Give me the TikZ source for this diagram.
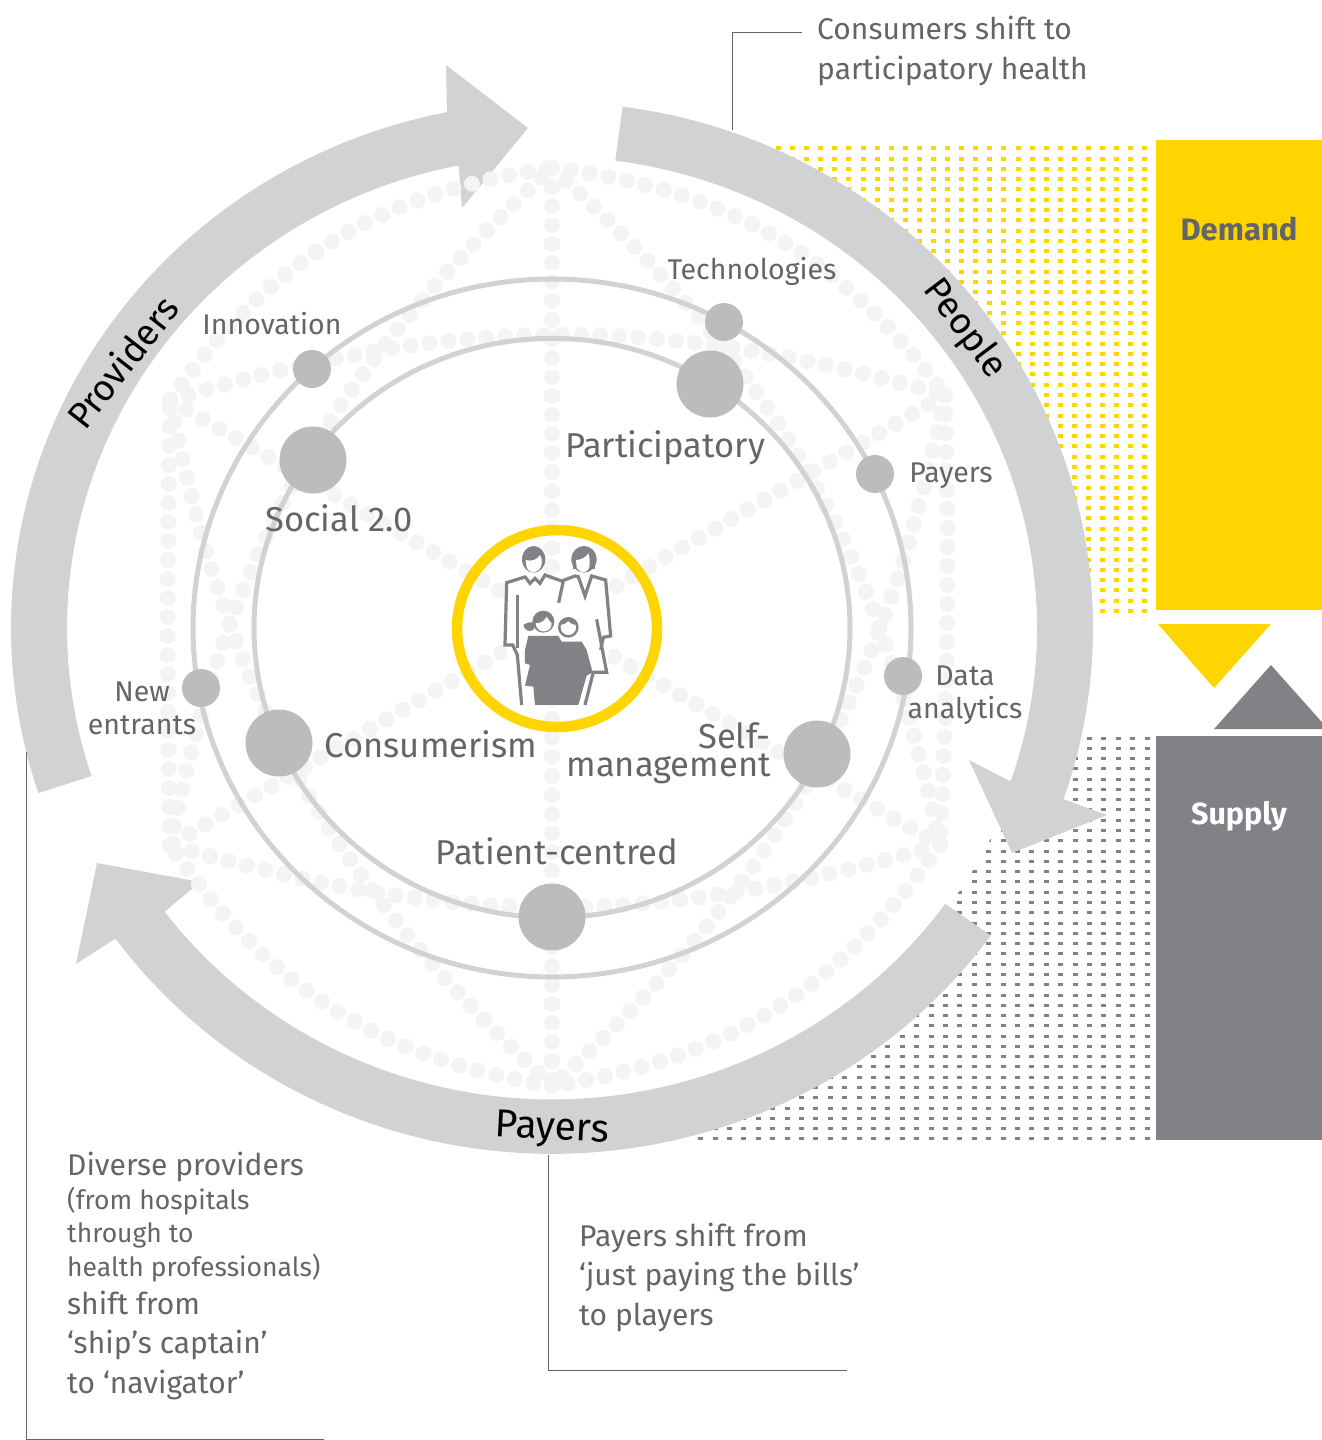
\documentclass[tikz,border=0pt]{standalone}
\usepackage{fontspec}
\setmainfont{Fira Sans}
\definecolor{bandgray}{HTML}{D0D2D3}
\definecolor{ballgray}{HTML}{BBBCBE}
\definecolor{palegray}{HTML}{F4F4F5}
\definecolor{textgray}{HTML}{646569}
\definecolor{darkgray}{HTML}{808285}
\definecolor{eyyellow}{HTML}{FFD500}
\tikzset{
  band/.style={fill=bandgray},
  ringline/.style={draw=bandgray, line width=5pt},
  pale/.style={draw=palegray, line width=16pt, line cap=round, dash pattern=on 0pt off 19pt},
  smallball/.style={circle, fill=ballgray, minimum size=38pt, inner sep=0pt},
  bigball/.style={circle, fill=ballgray, minimum size=67pt, inner sep=0pt},
  biglabel/.style={text=textgray, font=\fontsize{34.5}{28.5}\selectfont, inner sep=0pt, align=center},
  smalllabel/.style={text=textgray, font=\fontsize{28.5}{33}\selectfont, inner sep=0pt, align=center},
  bodytext/.style={text=textgray, font=\fontsize{30}{39.5}\selectfont, inner sep=0pt, align=left, anchor=base west},
  subtext/.style={text=textgray, font=\fontsize{26.5}{33.3}\selectfont, inner sep=0pt, align=left, anchor=base west},
  bandlabel/.style={text=black, font=\fontsize{36.5}{36}\selectfont, inner sep=0pt},
  leader/.style={draw=textgray, line width=1pt},
  famline/.style={draw=darkgray, line width=3.2pt, line join=miter, fill=none},
  famhair/.style={fill=darkgray},
}
\begin{document}
\begin{tikzpicture}[x=1pt, y=-1pt]
  \useasboundingbox (0,0) rectangle (1322,1440);

  % dotted panels behind the ring
  \foreach \row in {0,...,45}
    \draw[eyyellow, line width=4pt, dash pattern=on 5pt off 9.09pt] (776,148.3+\row*10.28) -- (1148,148.3+\row*10.28);
  \foreach \row in {0,...,39}
    \draw[darkgray, line width=3pt, dash pattern=on 5pt off 9.4pt] (698.2,738+\row*10.28) -- (1150,738+\row*10.28);

  \fill[eyyellow] (1156,140) rectangle (1322,610);
  \fill[darkgray] (1156,736) rectangle (1322,1140);
  \fill[eyyellow] (1158,624) -- (1271,624) -- (1214,688) -- cycle;
  \fill[darkgray] (1214,729) -- (1271,665) -- (1328,729) -- cycle;

  \coordinate (peopleA) at (969,760);
  \coordinate (peopleB) at (1107,815);
  \coordinate (peopleC) at (1012,853);
  \coordinate (payersA) at (200,882);
  \coordinate (payersB) at (97,863);
  \coordinate (payersC) at (76,964);
  \coordinate (provA) at (462,208);
  \coordinate (provB) at (528,128);
  \coordinate (provC) at (446,65);

  \begin{scope}[shift={(552,628)}, y=1pt, yscale=.972]
    \fill[white] (0,0) circle[radius=489];
    % the three arrows
    \fill[band] (82.5:541) arc[start angle=82.5, end angle=-19, radius=541]
      -- (peopleB) -- (peopleC) -- (peopleA)
      -- (-19:485) arc[start angle=-19, end angle=82.5, radius=485] -- cycle;
    \fill[band] (-35.8:541) arc[start angle=-35.8, end angle=-143.8, radius=541]
      -- (payersC) -- (payersB) -- (payersA)
      -- (-143:485) arc[start angle=-143, end angle=-35.8, radius=485] -- cycle;
    \fill[band] (198.3:541) arc[start angle=198.3, end angle=101.2, radius=541]
      -- (provC) -- (provB) -- (provA)
      -- (101.1:485) arc[start angle=101.1, end angle=198.3, radius=485] -- cycle;
  \end{scope}

  % the pale dotted net
  \coordinate (netT) at (552,168);
  \coordinate (netUR) at (945,395);
  \coordinate (netLR) at (940,845);
  \coordinate (netB) at (552,1086);
  \coordinate (netLL) at (170,845);
  \coordinate (netUL) at (170,400);
  \draw[pale] (netT) to[bend left=23] (netUR);
  \draw[pale] (netUR) to[bend left=2] (netLR);
  \draw[pale] (netLR) to[bend left=23] (netB);
  \draw[pale] (netB) to[bend left=23] (netLL);
  \draw[pale] (netLL) to[bend left=1] (netUL);
  \draw[pale] (netUL) to[bend left=23] (netT);
  \draw[pale] (netUL) to[bend left=16] (netUR);
  \draw[pale] (netLR) to[bend left=16] (netLL);
  \draw[pale] (netT) to[bend left=18] (netLR);
  \draw[pale] (netUR) to[bend left=18] (netB);
  \draw[pale] (netB) to[bend left=18] (netUL);
  \draw[pale] (netLL) to[bend left=18] (netT);
  \draw[pale] (netT) -- (netB);
  \draw[pale] (netUL) -- (netLR);
  \draw[pale] (netUR) -- (netLL);

  \begin{scope}[shift={(552,628)}, y=1pt, yscale=.972]
    \draw[ringline] (0,0) circle[radius=359];
    \draw[ringline] (0,0) circle[radius=298];
  \end{scope}

  \node[smallball] (techball) at (724,322) {};
  \node[smallball] (innoball) at (312,369) {};
  \node[smallball] (payball) at (875,474) {};
  \node[smallball] (databall) at (903,676) {};
  \node[smallball] (newball) at (201,688) {};
  \node[bigball] (partball) at (710,384) {};
  \node[bigball] (socball) at (313,460) {};
  \node[bigball] (selfball) at (817,754) {};
  \node[bigball] (consball) at (279,743) {};
  \node[bigball] (patball) at (552,917) {};

  \node[smalllabel] (techlab) at (752,271) {Technologies};
  \node[smalllabel] (innolab) at (272,324) {Innovation};
  \node[smalllabel] (paylab) at (951,476) {Payers};
  \node[smalllabel] (datalab) at (965,695) {Data\\analytics};
  \node[smalllabel] (newlab) at (142,708) {New\\entrants};
  \node[biglabel] (partlab) at (665,448) {Participatory};
  \node[biglabel] (soclab) at (339,518) {Social 2.0};
  \node[biglabel] (conslab) at (431,744) {Consumerism};
  \node[biglabel, align=right, anchor=east] (selflab) at (771,753) {Self-\\management};
  \node[biglabel] (patlab) at (557,851) {Patient-centred};

  \node[bandlabel, rotate=-53] (peoplelab) at (964,329) {People};
  \node[bandlabel, rotate=52] (provlab) at (122,362) {Providers};
  \node[bandlabel, font=\fontsize{39}{39}\selectfont, rotate=-3] (paylabb) at (552,1130) {Payers};

  \node[text=textgray, font=\bfseries\fontsize{31}{31}\selectfont, inner sep=0pt] (demandlab) at (1239,229) {Demand};
  \node[text=white, font=\bfseries\fontsize{30.5}{31}\selectfont, inner sep=0pt] (supplylab) at (1239,816) {Supply};

  % leaders
  \coordinate (consA) at (802,32);
  \coordinate (consB) at (732,130);
  \draw[leader] (consA) -| (consB);
  \coordinate (paysA) at (548,1155);
  \coordinate (paysB) at (847,1370);
  \draw[leader] (paysA) |- (paysB);
  \coordinate (provsA) at (26,752);
  \coordinate (provsB) at (324,1439);
  \draw[leader] (provsA) |- (provsB);

  \node[bodytext] (constext) at (817,79) {Consumers shift to\\participatory health};
  \node[bodytext] (paystext) at (579,1325) {Payers shift from\\‘just paying the bills’\\to players};
  \node[bodytext] (provtexta) at (67,1175) {Diverse providers};
  \node[subtext] (provtextb) at (67,1276) {(from hospitals\\through to\\health professionals)};
  \node[bodytext] (provtextc) at (67,1393) {shift from\\‘ship’s captain’\\to ‘navigator’};

  % centre ring and family
  \draw[eyyellow, line width=10.5pt] (557,628.5) ellipse[x radius=100, y radius=98.5];
  \begin{scope}[shift={(440,510)}, x=.3333pt, y=-.3333pt]
    % man and woman
    \path[fill=white] (200,215) -- (495,205) -- (512,380) -- (500,487) -- (440,585) -- (245,585) -- (195,405) -- cycle;
    \draw[famline] (258,200) -- (200,218) -- (195,405) -- (218,405) -- (232,435) -- (245,585);
    \draw[famline] (233,255) -- (233,415);
    \draw[famline] (255,200) -- (270,220) -- (285,205) -- (300,220) -- (315,195) -- (365,213) -- (405,198) -- (415,200) -- (435,258) -- (455,198) -- (497,210) -- (512,378) -- (490,382) -- (482,420);
    \draw[famline] (370,213) -- (356,278);
    \draw[famline] (470,328) -- (500,487) -- (460,487) -- (435,585);
    \fill[famhair] (281,148) ellipse[x radius=35, y radius=40];
    \fill[white] (257,150) .. controls (275,155) and (290,150) .. (300,135) .. controls (308,145) and (306,165) .. (302,172) .. controls (290,192) and (270,192) .. (260,172) -- cycle;
    \fill[famhair] (432,148) ellipse[x radius=38, y radius=40];
    \fill[famhair] (400,150) rectangle (465,178);
    \fill[white] (408,150) .. controls (420,150) and (435,145) .. (445,130) .. controls (450,145) and (450,160) .. (448,172) .. controls (440,192) and (420,192) .. (410,172) -- cycle;
    % the children
    \fill[famhair] (250,345) .. controls (265,335) and (275,335) .. (285,340) -- (280,360) .. controls (270,365) and (255,365) .. (250,345) -- cycle;
    \fill[famhair] (310,335) circle[radius=33];
    \fill[white] (287,340) .. controls (305,340) and (315,330) .. (320,320) .. controls (325,330) and (332,335) .. (335,340) .. controls (335,370) and (290,375) .. (287,340) -- cycle;
    \fill[famhair] (385,352) circle[radius=31];
    \fill[white] (385,352) circle[radius=23];
    \fill[famhair] (360,345) .. controls (370,322) and (400,320) .. (413,345) .. controls (400,345) and (390,340) .. (385,333) .. controls (380,340) and (370,345) .. (360,345) -- cycle;
    \fill[famhair] (265,378) -- (355,378) -- (365,395) -- (425,395) -- (440,420) -- (458,487) -- (440,497) -- (415,585) -- (285,585) -- (280,530) -- (255,527) -- (270,465) -- (255,460) -- (255,420) -- cycle;
  \end{scope}
\end{tikzpicture}
\end{document}
